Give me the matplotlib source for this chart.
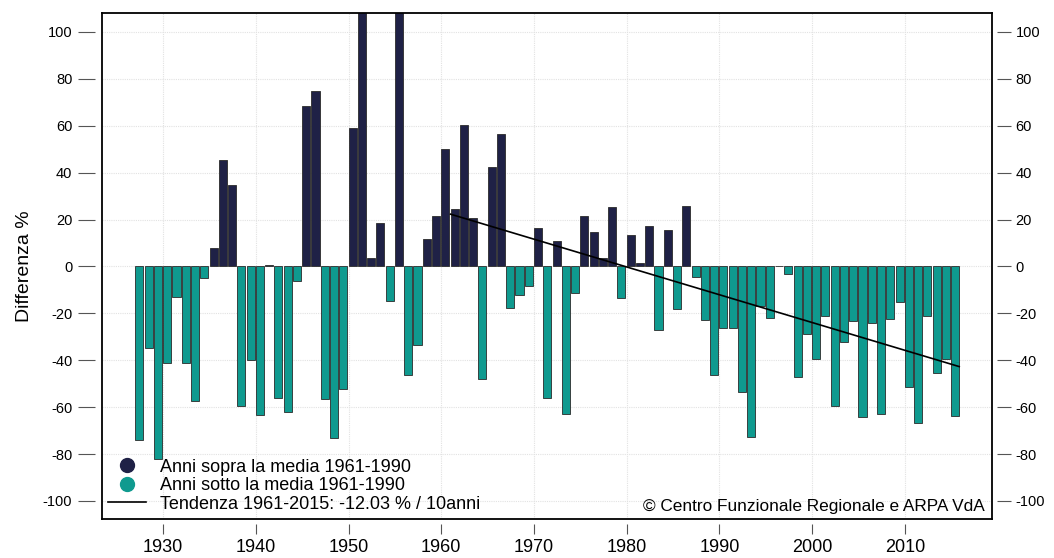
import matplotlib
matplotlib.use("Agg")
import matplotlib.pyplot as plt
from matplotlib.lines import Line2D

plt.rcParams['axes.unicode_minus'] = False

NARROW = ['Liberation Sans Narrow', 'Liberation Sans', 'DejaVu Sans']
REGULAR = ['Liberation Sans', 'DejaVu Sans']

years = list(range(1927, 2016))
diff = [
    -74.1, -34.7, -82.0, -41.3, -13.2, -41.0, -57.4, -4.8, 7.8, 45.3,
    34.9, -59.5, -39.9, -63.2, 0.8, -56.0, -62.2, -6.4, 68.6, 75.0,
    -56.6, -73.1, -52.2, 59.0, 125.0, 3.5, 18.5, -14.9, 120.0, -46.3,
    -33.5, 11.7, 21.5, 49.9, 24.5, 60.3, 20.5, -47.9, 42.3, 56.7,
    -17.8, -12.3, -8.5, 16.5, -55.9, 11.0, -62.9, -11.3, 21.6, 14.7,
    3.4, 25.3, -13.4, 13.3, 1.4, 17.3, -26.9, 15.4, -18.0, 25.9,
    -4.5, -22.9, -46.5, -26.4, -26.4, -53.6, -72.8, -16.8, -21.8, 0.3,
    -3.3, -47.0, -29.0, -39.6, -21.0, -59.3, -32.1, -23.3, -64.4, -23.9,
    -62.9, -22.6, -15.1, -51.3, -66.6, -21.1, -45.3, -39.3, -63.6,
]
trend_years = [1961, 2015]
trend_vals = [22.3, -42.7]

xticks = [1930, 1940, 1950, 1960, 1970, 1980, 1990, 2000, 2010]
yticks = list(range(-100, 101, 20))

navy = '#1f2146'
teal = '#0f9a8f'
bar_w = 0.87

fig = plt.figure(figsize=(10.54, 5.58), dpi=100)
ax = fig.add_axes([0.0965, 0.0699, 0.8447, 0.9068])

colors = [navy if v > 0 else teal for v in diff]
ax.bar(years, diff, width=bar_w, align='edge', color=colors,
       edgecolor='#2a2a2a', linewidth=0.6, zorder=2)
ax.plot([trend_years[0], trend_years[1] + bar_w], trend_vals,
        color='black', lw=1.2, zorder=3)

ax.set_xlim(1923.37, 2019.41)
ax.set_ylim(-107.7, 108.1)
ax.set_xticks(xticks)
ax.set_yticks(yticks)
ax.grid(True, color='#e2e2e2', lw=0.8, ls=(0, (1, 1)), zorder=0)
ax.tick_params(length=0, labelbottom=False, labelleft=False)
for s in ax.spines.values():
    s.set_linewidth(1.3)
    s.set_color('black')

# R-style detached ticks
secx = ax.secondary_xaxis(-0.009)
secx.spines[['top', 'bottom']].set_visible(False)
secx.set_xticks(xticks, [str(t) for t in xticks], fontfamily=NARROW, fontsize=13)
secx.tick_params(length=7, width=0.8, color='#555555', pad=4)

secl = ax.secondary_yaxis(-0.008)
secl.spines[['left', 'right']].set_visible(False)
secl.set_yticks(yticks, [str(t) for t in yticks], fontfamily=REGULAR, fontsize=10.5)
secl.tick_params(length=12, width=0.8, color='#555555', pad=4)
secl.set_ylabel('Differenza %', fontfamily=NARROW, fontsize=14, labelpad=7)

secr = ax.secondary_yaxis(1.006)
secr.spines[['left', 'right']].set_visible(False)
secr.set_yticks(yticks, [str(t) for t in yticks], fontfamily=REGULAR, fontsize=10.5)
secr.tick_params(length=10, width=0.8, color='#555555', pad=3)

handles = [
    Line2D([], [], marker='o', ls='none', color=navy, markersize=10),
    Line2D([], [], marker='o', ls='none', color=teal, markersize=10),
    Line2D([], [], color='black', lw=1.2),
]
labels = ['Anni sopra la media 1961-1990',
          'Anni sotto la media 1961-1990',
          'Tendenza 1961-2015: -12.03 % / 10anni']
ax.legend(handles, labels, loc='lower left', bbox_to_anchor=(0.0, 0.0),
          frameon=False, prop={'family': NARROW, 'size': 13},
          handlelength=2.1, handletextpad=0.8, labelspacing=0.08,
          borderaxespad=0.1, borderpad=0.25)

ax.text(0.992, 0.024, '\u00a9 Centro Funzionale Regionale e ARPA VdA',
        transform=ax.transAxes, ha='right', va='center',
        fontfamily=NARROW, fontsize=12.4)

fig.savefig('out.png', dpi=100)
